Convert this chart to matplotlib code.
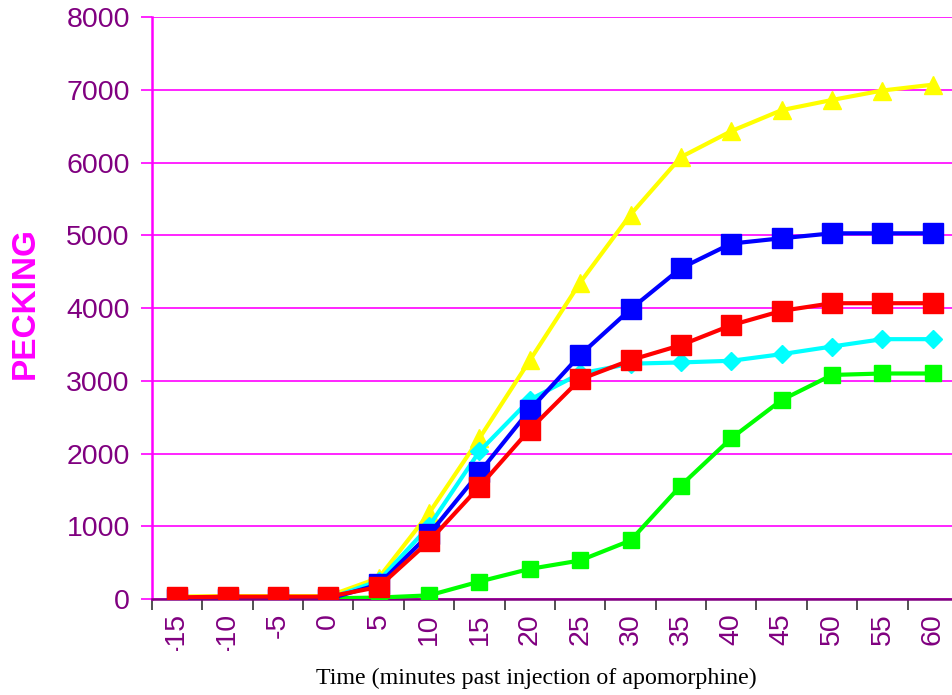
"""
Pecking after injection of apomorphine, five birds
"""
import matplotlib
matplotlib.use("Agg")
import matplotlib.pyplot as plt
from matplotlib.transforms import Bbox, TransformedBbox

# time points (minutes)
times = ["-15", "-10", "-5", "0", "5", "10", "15", "20",
         "25", "30", "35", "40", "45", "50", "55", "60"]

# cumulative pecking per series
green = [10, 10, 10, 10, 20, 50, 240, 414, 530, 805, 1560, 2210, 2735, 3080, 3100, 3100]
yellow = [35, 40, 40, 40, 290, 1180, 2210, 3280, 4350, 5285, 6075, 6432, 6720, 6860, 6990, 7070]
cyan = [5, 5, 5, 5, 250, 1000, 2030, 2740, 3100, 3235, 3252, 3275, 3366, 3471, 3572, 3572]
blue = [0, 0, 0, 0, 200, 890, 1740, 2600, 3355, 3984, 4547, 4886, 4959, 5027, 5027, 5027]
red = [23, 32, 32, 32, 165, 794, 1545, 2330, 3020, 3284, 3490, 3764, 3961, 4066, 4066, 4066]

PURPLE = "#800080"
MAGENTA = "#FF00FF"

fig = plt.figure(figsize=(9.53, 6.95), dpi=100)
ax = fig.add_axes([0.1595, 0.1381, 0.8457, 0.8374])

x = list(range(len(times)))
ax.plot(x, green, color="#00FF00", lw=3, marker="s", ms=11.5, zorder=3)
ax.plot(x, yellow, color="#FFFF00", lw=3, marker="^", ms=12.5, zorder=4)
ax.plot(x, cyan, color="#00FFFF", lw=3, marker="D", ms=9, zorder=5)
ax.plot(x, blue, color="#0000FF", lw=3, marker="s", ms=15, zorder=6)
ax.plot(x, red, color="#FF0000", lw=3, marker="s", ms=15, zorder=7)

ax.set_xlim(-0.5, len(times) - 0.5)
ax.set_ylim(0, 8000)

# horizontal grid lines
ax.set_yticks(range(0, 8001, 1000))
ax.yaxis.grid(True, color=MAGENTA, lw=1.2)
ax.set_axisbelow(True)
ax.tick_params(axis="y", colors=MAGENTA, labelcolor=PURPLE, labelsize=20.5,
               length=8, width=1.2, pad=8)

# category labels at centres, tick marks between categories
ax.set_xticks(x)
ax.set_xticklabels(times, rotation=90, color=PURPLE, fontsize=20.5)
ax.set_xticks([i - 0.5 for i in range(len(times) + 1)], minor=True)
ax.tick_params(axis="x", which="major", length=0, pad=10)
ax.tick_params(axis="x", which="minor", length=8, width=1.2, color="#333333")

for lab in ax.get_yticklabels() + ax.get_xticklabels():
    lab.set_family("Liberation Sans")

# the long labels are cut off at the bottom in the original
clip = TransformedBbox(Bbox.from_extents(0, 1 - 651 / 695, 1, 1), fig.transFigure)
for lab in ax.get_xticklabels():
    lab.set_clip_box(clip)
    lab.set_clip_on(True)

ax.spines["top"].set_visible(False)
ax.spines["right"].set_visible(False)
ax.spines["left"].set_color(MAGENTA)
ax.spines["left"].set_linewidth(1.8)
ax.spines["bottom"].set_color(PURPLE)
ax.spines["bottom"].set_linewidth(1.8)

fig.text(25 / 953, 1 - 303 / 695, "PECKING", rotation=90, color=MAGENTA,
         fontsize=24, fontweight="bold", family="Liberation Sans",
         ha="center", va="center")
fig.text(536 / 953, 1 - 678 / 695, "Time (minutes past injection of apomorphine)",
         fontsize=17.3, family="Liberation Serif", ha="center", va="center")

fig.savefig("out.png", dpi=100)
